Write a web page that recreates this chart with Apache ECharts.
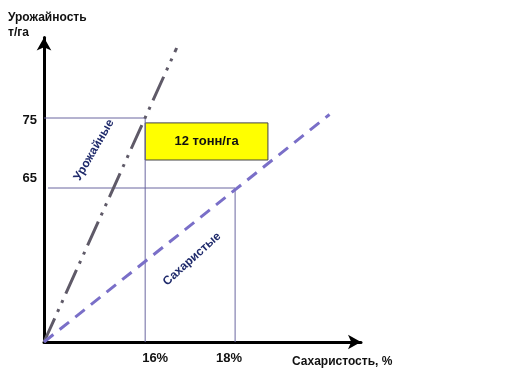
<!DOCTYPE html>
<html><head><meta charset="utf-8">
<script src="https://cdn.jsdelivr.net/npm/echarts@6/dist/echarts.min.js"></script>
<style>html,body{margin:0;padding:0;background:#fff}#c{width:511px;height:385px}</style>
</head><body><div id="c"></div>
<script>
// ---- data ----
const xTicks = [16, 18];
const xTickLabels = ['16%', '18%'];
const yTicks = [65, 75];
const yTickLabels = ['65', '75'];
const yieldLine = [[13.75, 43], [16.7, 85]];      // "Урожайные"
const sugarLine = [[13.75, 43], [20.1, 75.5]];    // "Сахаристые"
const guide75 = [[13.75, 75], [16, 75], [16, 43]];
const guide65 = [[13.84, 65], [18, 65], [18, 43]];
const boxCorners = [[16, 74.3], [18.73, 69]];
const boxText = '12 тонн/га';
const yName = 'Урожайность\nт/га';
const xName = 'Сахаристость, %';
const yieldName = 'Урожайные';
const sugarName = 'Сахаристые';

const chart = echarts.init(document.getElementById('c'));
const font = 'Liberation Sans, Arial, sans-serif';
const guideStyle = {color: '#6b67a0', width: 1};
const lbl = {fontFamily: font, fontWeight: 'bold', fontSize: 13, color: '#111'};
chart.setOption({
  animation: false,
  grid: {left: 44, right: 150, top: 37.5, bottom: 43},
  xAxis: {
    type: 'value', min: 13.75, max: 20.8,
    name: xName, nameLocation: 'end', nameGap: -69,
    nameTextStyle: {align: 'left', verticalAlign: 'top', padding: [14, 0, 0, 0], fontFamily: font, fontWeight: 'bold', fontSize: 12, color: '#111'},
    axisLine: {lineStyle: {color: '#000', width: 3}, symbol: ['none', 'arrow'], symbolSize: [11, 13]},
    axisTick: {show: false}, splitLine: {show: false},
    axisLabel: {
      customValues: xTicks, margin: 10,
      formatter: v => { const i = xTicks.indexOf(v); return i === 0 ? '{a|' + xTickLabels[i] + '}' : '{b|' + xTickLabels[i] + '}'; },
      rich: {
        a: Object.assign({padding: [0, 0, 0, 20]}, lbl),
        b: Object.assign({padding: [0, 12, 0, 0]}, lbl)
      }
    }
  },
  yAxis: {
    type: 'value', min: 43, max: 86.5,
    axisLine: {show: true, lineStyle: {color: '#000', width: 3}, symbol: ['none', 'arrow'], symbolSize: [11, 13]},
    axisTick: {show: false}, splitLine: {show: false},
    axisLabel: {
      customValues: yTicks, margin: 7,
      formatter: v => { const i = yTicks.indexOf(v); return i === 0 ? '{u|' + yTickLabels[i] + '}' : '{n|' + yTickLabels[i] + '}'; },
      rich: {
        u: Object.assign({padding: [0, 0, 20, 0]}, lbl),
        n: Object.assign({padding: [4, 0, 0, 0]}, lbl)
      }
    }
  },
  series: [
    {type: 'line', data: guide75, symbol: 'none', lineStyle: guideStyle, z: 1},
    {type: 'line', data: guide65, symbol: 'none', lineStyle: guideStyle, z: 1,
     markArea: {silent: true,
       itemStyle: {color: '#ffff00', borderColor: '#444', borderWidth: 1},
       label: {show: true, position: 'inside', color: '#111', fontFamily: font, fontWeight: 'bold', fontSize: 13},
       data: [[{coord: boxCorners[0], name: boxText}, {coord: boxCorners[1]}]]}},
    {type: 'line', data: yieldLine, symbol: 'none', z: 3,
     lineStyle: {color: '#5f5a68', width: 3, type: [26, 7, 3, 7, 3, 7]}},
    {type: 'line', data: sugarLine, symbol: 'none', z: 3,
     lineStyle: {color: '#7a6fc8', width: 3, type: [12, 8]}}
  ],
  graphic: [
    {type: 'text', left: 8, top: 10, style: {text: yName, font: 'bold 12px ' + font, fill: '#111', lineHeight: 15}},
    {type: 'text', x: 94, y: 150, rotation: 60 * Math.PI / 180,
     style: {text: yieldName, font: 'bold 12px ' + font, fill: '#1f2a6b', align: 'center', verticalAlign: 'middle'}},
    {type: 'text', x: 192, y: 259, rotation: 42 * Math.PI / 180,
     style: {text: sugarName, font: 'bold 12px ' + font, fill: '#1f2a6b', align: 'center', verticalAlign: 'middle'}}
  ]
});
</script></body></html>
